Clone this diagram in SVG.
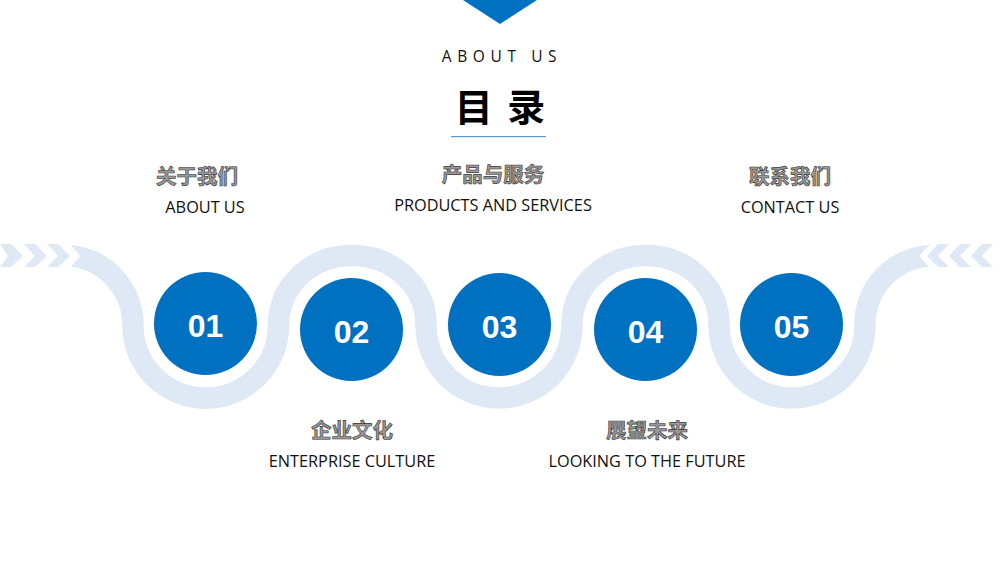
<svg xmlns="http://www.w3.org/2000/svg" width="1000" height="563" viewBox="0 0 1000 563">
<style>
.cn{font-family:"Noto Sans CJK SC","Liberation Sans",sans-serif;font-size:20.500px;font-weight:700;fill:#999;stroke:#333;stroke-width:.6px;text-anchor:middle}
.en{font-family:"Open Sans","Noto Sans",sans-serif;font-size:16.300px;fill:#111;text-anchor:middle}
.num{font-family:"Liberation Sans",sans-serif;font-size:32px;font-weight:700;fill:#fff;text-anchor:middle}
.c{fill:#0070c0}
.ch{fill:#dee9f5}
</style>
<rect width="1000" height="563" fill="#fff"/>
<polygon points="463,0 537,0 500,24" fill="#0070c0"/>
<text x="502" y="62" font-family="'Open Sans',sans-serif" font-size="15.500" letter-spacing="5.600" text-anchor="middle" fill="#111">ABOUT US</text>
<text x="500" y="121" font-family="'Noto Sans CJK SC',sans-serif" font-size="38" font-weight="700" text-anchor="middle" fill="#000" word-spacing="6" xml:space="preserve">目 录</text>
<rect x="451" y="136" width="95" height="1.200" fill="#5b9bd5"/>
<g id="connectors">
<path d="M68 255.500C106 258 133 290 133 325.500A72.700 72.700 0 0 0 278.500 325.500C278.500 285 312 255.500 352 255.500C392 255.500 426 285 426 325A73 73 0 0 0 572 325C572 285 606 255.500 646 255.500C686 255.500 719 285 719 325A73 73 0 0 0 865 325C865 288 892 258 932 255.500" fill="none" stroke="#dee9f5" stroke-width="21.500"/>
<polygon points="64,243 70,244 80,256 70,268 64,268" fill="#fff"/>
<polygon points="936,243 930,244 919,256 930,268 936,268" fill="#fff"/>
<polygon class="ch" points="0,244 11,244 23,256 11,267 0,267 8,256"/>
<polygon class="ch" points="24,244 35,244 47,256 35,267 24,267 35,256"/>
<polygon class="ch" points="47,244 58,244 70,256 58,267 47,267 58,256"/>
<polygon class="ch" points="938,244 927,256 938,267 949,267 938,256 949,244"/>
<polygon class="ch" points="960,244 949,256 960,267 971,267 960,256 971,244"/>
<polygon class="ch" points="982,244 971,256 982,267 993,267 982,256 993,244"/>
</g>
<g id="node1"><circle class="c" cx="205.500" cy="323.500" r="51.500"/><text class="num" x="205.500" y="337">01</text><text class="cn" x="197" y="184">关于我们</text><text class="en" x="205" y="213">ABOUT US</text></g>
<g id="node2"><circle class="c" cx="351.500" cy="329.500" r="51.500"/><text class="num" x="351.500" y="343">02</text><text class="cn" x="352" y="438">企业文化</text><text class="en" x="352" y="467">ENTERPRISE CULTURE</text></g>
<g id="node3"><circle class="c" cx="499.500" cy="324.500" r="51.500"/><text class="num" x="499.500" y="338">03</text><text class="cn" x="493" y="182">产品与服务</text><text class="en" x="493" y="211">PRODUCTS AND SERVICES</text></g>
<g id="node4"><circle class="c" cx="645.500" cy="329.500" r="51.500"/><text class="num" x="645.500" y="343">04</text><text class="cn" x="647" y="438">展望未来</text><text class="en" x="647" y="467">LOOKING TO THE FUTURE</text></g>
<g id="node5"><circle class="c" cx="791.500" cy="324.500" r="51.500"/><text class="num" x="791.500" y="338">05</text><text class="cn" x="790" y="184">联系我们</text><text class="en" x="790" y="213">CONTACT US</text></g>
</svg>
